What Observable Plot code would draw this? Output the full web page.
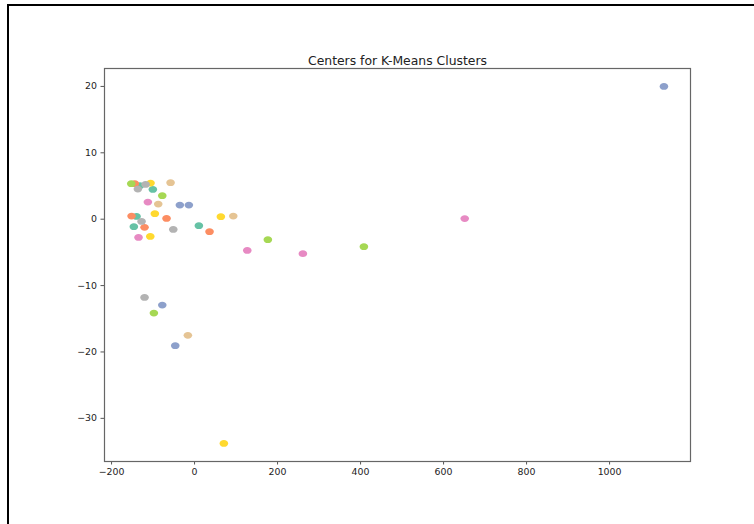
<!DOCTYPE html>
<html>
<head>
<meta charset="utf-8">
<script src="https://cdn.jsdelivr.net/npm/d3@7"></script>
<script src="https://cdn.jsdelivr.net/npm/@observablehq/plot@0.6"></script>
<style>
  html, body { margin: 0; padding: 0; background: #fff; }
  #wrap { position: relative; width: 754px; height: 524px; overflow: hidden; }
  #border { position: absolute; left: 7px; top: 4px; width: 800px; height: 600px;
            border-left: 2px solid #000; border-top: 2px solid #000; pointer-events: none; }
  #chart { position: absolute; left: 0; top: 0; }
</style>
</head>
<body>
<div id="wrap"><div id="chart"></div><div id="border"></div></div>
<script>
const titleText = "Centers for K-Means Clusters";
const palette = ["#66c2a5", "#fc8d62", "#8da0cb", "#e78ac3", "#a6d854", "#ffd92f", "#e5c494", "#b3b3b3"];
// cluster colour index (Set2 order), x and y of each cluster center
const colorIdx = [0,0,0,0,0, 1,1,1,1,1, 2,2,2,2,2, 3,3,3,3,3, 4,4,4,4,4, 5,5,5,5,5, 6,6,6,6, 7,7,7,7,7];
const xValues = [10.4, -100.5, -131.8, -139.8, -146.3,
                 36.1, -67.5, -120.5, -143.9, -151.8,
                 1131, -13.7, -35.4, -77.8, -46.5,
                 651, 261, 127, -112.5, -135,
                 408, 176.6, -77.8, -152.5, -98,
                 63.4, -95.7, -106, -106.7, 70.6,
                 93.3, -57.8, -87.5, -16.1,
                 -51.3, -118, -127.7, -136.6, -120.5];
const yValues = [-0.98, 4.49, 5.05, 0.42, -1.13,
                 -1.88, 0.12, -1.23, 5.35, 0.47,
                 20.0, 2.12, 2.12, -12.94, -19.05,
                 0.1, -5.2, -4.7, 2.58, -2.74,
                 -4.14, -3.09, 3.54, 5.35, -14.14,
                 0.38, 0.83, 5.44, -2.59, -33.77,
                 0.47, 5.5, 2.27, -17.5,
                 -1.54, 5.24, -0.33, 4.53, -11.78];
const xTicks = [-200, 0, 200, 400, 600, 800, 1000];
const yTicks = [-30, -20, -10, 0, 10, 20];
const xDomain = [-217, 1195];
const yDomain = [-36.5, 22.7];

const points = xValues.map((x, i) => ({x, y: yValues[i], c: colorIdx[i]}));
const fmt = d => (d < 0 ? "\u2212" + Math.abs(d) : String(d));

// elliptical marker (slightly wider than tall, as in the reference)
const ellipse = {
  draw(ctx) {
    const rx = 4.3, ry = 3.4, k = 0.5523;
    ctx.moveTo(rx, 0);
    ctx.bezierCurveTo(rx, ry * k, rx * k, ry, 0, ry);
    ctx.bezierCurveTo(-rx * k, ry, -rx, ry * k, -rx, 0);
    ctx.bezierCurveTo(-rx, -ry * k, -rx * k, -ry, 0, -ry);
    ctx.bezierCurveTo(rx * k, -ry, rx, -ry * k, rx, 0);
    ctx.closePath();
  }
};

const chart = Plot.plot({
  width: 754,
  height: 524,
  marginLeft: 104,
  marginRight: 64,
  marginTop: 68,
  marginBottom: 63,
  style: {fontFamily: "DejaVu Sans", fontSize: "9.4px", color: "#222", background: "#fff", overflow: "visible"},
  x: {domain: xDomain, ticks: xTicks, label: null, tickSize: 3.5, tickPadding: 3},
  y: {domain: yDomain, ticks: yTicks, label: null, tickSize: 3.5, tickPadding: 4},
  color: {type: "ordinal", domain: d3.range(palette.length), range: palette},
  marks: [
    Plot.axisX({ticks: xTicks, tickFormat: fmt, tickSize: 3.5, tickPadding: 3, stroke: "#555", fill: "#222", label: null}),
    Plot.axisY({ticks: yTicks, tickFormat: fmt, tickSize: 3.5, tickPadding: 4, stroke: "#555", fill: "#222", label: null}),
    Plot.dot(points, {x: "x", y: "y", fill: "c", symbol: ellipse, r: 4, stroke: null}),
    Plot.frame({stroke: "#666", strokeWidth: 1.2}),
    Plot.text([titleText], {frameAnchor: "top", dy: -4, lineAnchor: "bottom", text: d => d,
      fontSize: 12.4, fill: "#222"})
  ]
});
document.getElementById("chart").appendChild(chart);
</script>
</body>
</html>
